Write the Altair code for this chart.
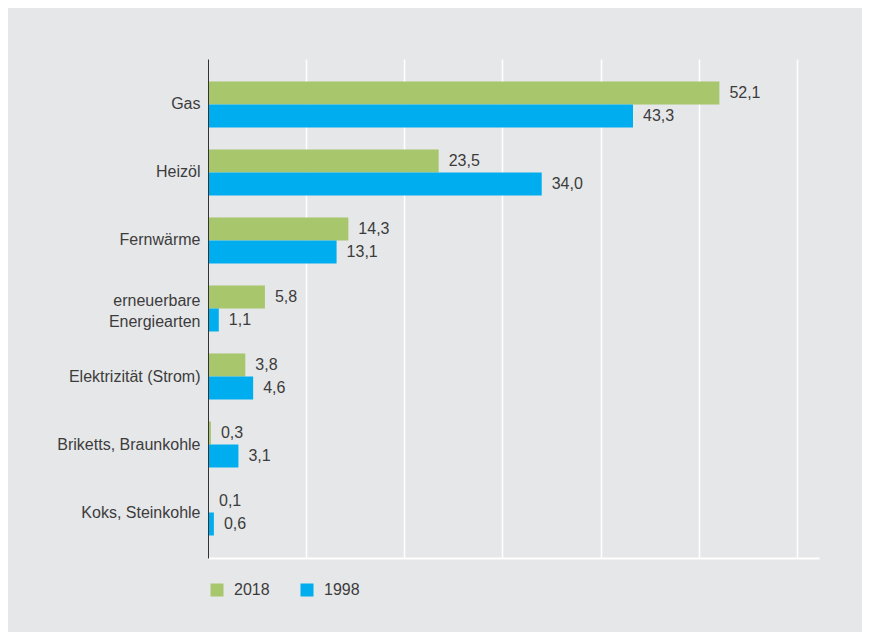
import altair as alt
import pandas as pd

categories = ["Gas", "Heizöl", "Fernwärme", "erneuerbare Energiearten",
              "Elektrizität (Strom)", "Briketts, Braunkohle", "Koks, Steinkohle"]
values_2018 = [52.1, 23.5, 14.3, 5.8, 3.8, 0.3, 0.1]
values_1998 = [43.3, 34.0, 13.1, 1.1, 4.6, 3.1, 0.6]
years = ["2018", "1998"]
colors = ["#a8c66c", "#00aeef"]
grid_values = [10, 20, 30, 40, 50, 60]

rows = []
for c, a, b in zip(categories, values_2018, values_1998):
    rows.append({"Kategorie": c, "Jahr": "2018", "Wert": a})
    rows.append({"Kategorie": c, "Jahr": "1998", "Wert": b})
df = pd.DataFrame(rows)

FONT = "Liberation Sans"
TXT = "#3c3c3c"

base = alt.Chart(df).transform_calculate(
    Label="replace(format(datum.Wert, '.1f'), '.', ',')"
).encode(
    y=alt.Y("Kategorie:N", sort=categories,
            scale=alt.Scale(paddingInner=0.324, paddingOuter=0.331),
            axis=alt.Axis(title=None, ticks=False, labelPadding=8, labelFontSize=16,
                          labelColor=TXT, labelFont=FONT, domainColor="#333333",
                          domainWidth=1, labelLimit=400, grid=False, zindex=1,
                          labelLineHeight=21,
                          labelOffset={"condition": {"test": "datum.label == 'erneuerbare Energiearten'", "value": -8}, "value": 0},
                          labelExpr="datum.label == 'erneuerbare Energiearten' ? ['erneuerbare', 'Energiearten'] : datum.label")),
    yOffset=alt.YOffset("Jahr:N", sort=years,
                        scale=alt.Scale(paddingInner=0, paddingOuter=0)),
)

xenc = alt.X("Wert:Q",
             scale=alt.Scale(domain=[0, 62.25], nice=False, zero=True),
             axis=alt.Axis(title=None, labels=False, ticks=False, values=grid_values,
                           grid=True, gridColor="white", gridWidth=1.5,
                           domainColor="white", domainWidth=2))

bars = base.mark_bar().encode(
    x=xenc,
    color=alt.Color("Jahr:N", sort=years,
                    scale=alt.Scale(domain=years, range=colors),
                    legend=alt.Legend(title=None, orient="none", legendX=1, legendY=523,
                                      direction="horizontal", symbolType="square",
                                      symbolSize=169, symbolStrokeWidth=0,
                                      labelFontSize=16, labelFont=FONT, labelColor=TXT,
                                      labelOffset=9, columnPadding=29, padding=0)),
)

text = base.mark_text(align="left", baseline="middle", dx=10, fontSize=16,
                      font=FONT, color=TXT).encode(
    x=alt.X("Wert:Q"),
    text=alt.Text("Label:N"),
)

chart = alt.layer(bars, text).properties(
    width=611, height=499,
    autosize=alt.AutoSizeParams(type="none"),
    padding={"left": 200, "top": 51, "right": 43, "bottom": 74},
    background="#e6e7e9",
).configure_view(stroke=None)

chart.save("out.html", embed_options={"renderer": "svg", "actions": False})
